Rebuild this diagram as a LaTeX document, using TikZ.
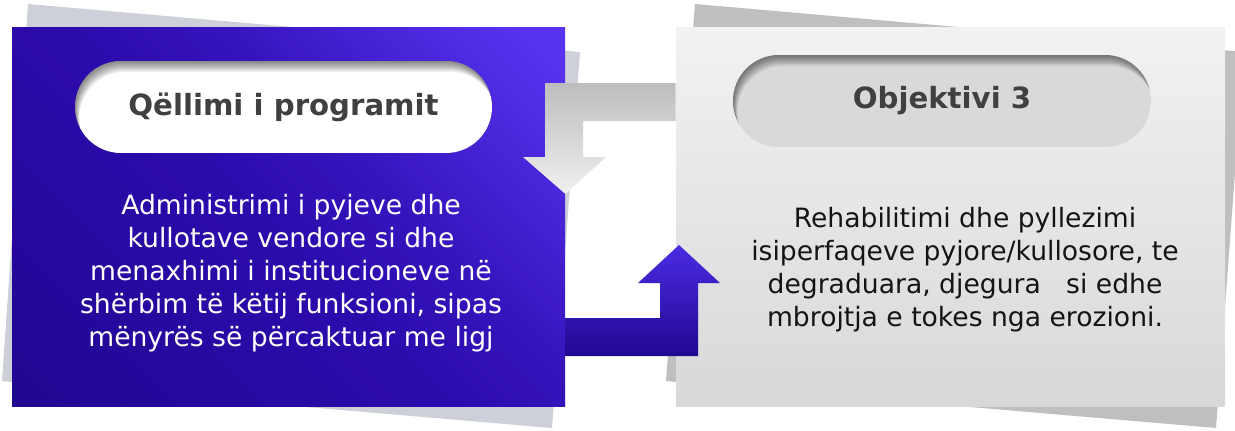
\documentclass[tikz,border=0pt]{standalone}
\usepackage{fontspec}
\setmainfont{DejaVu Sans}
\definecolor{sheetL}{HTML}{CDD0D8}
\definecolor{sheetR}{HTML}{BFBFBF}
\definecolor{blueTR}{HTML}{5833F0}
\definecolor{blueMid}{HTML}{2C0BAD}
\definecolor{blueBL}{HTML}{1E0587}
\definecolor{grayTop}{HTML}{F2F2F2}
\definecolor{grayBot}{HTML}{D8D8D8}
\definecolor{titlegray}{HTML}{404040}
\definecolor{arrBlueTop}{HTML}{4B2BE3}
\definecolor{arrBlueBot}{HTML}{220792}
\definecolor{arrGrayTop}{HTML}{BDBDBD}
\definecolor{arrGrayBot}{HTML}{F0F0F0}
\definecolor{pillR}{HTML}{D9D9D9}
\pgfdeclarehorizontalshading{bluediag}{100bp}{color(0bp)=(blueBL); color(28bp)=(blueBL!45!blueMid); color(48bp)=(blueMid); color(60bp)=(blueMid!75!blueTR); color(82bp)=(blueTR); color(100bp)=(blueTR)}
\tikzset{
  boxnode/.style={rectangle, inner sep=0pt, minimum height=189.5pt},
  bodytext/.style={align=center, font=\fontsize{13.3}{16.5}\selectfont},
  titletext/.style={font=\fontsize{14.6}{17}\selectfont\bfseries, text=titlegray},
  pillshadow/.style={black, opacity=0.05, even odd rule},
}
\begin{document}
\begin{tikzpicture}[x=0.5pt,y=-0.5pt]
\useasboundingbox (0,0) rectangle (1235,430);
% back sheets
\fill[sheetL] (28,4) -- (580,52) -- (552,428) -- (2,381) -- cycle;
\fill[sheetR] (695,4) -- (1244,52) -- (1216,428) -- (666,381) -- cycle;
% boxes
\node[boxnode, minimum width=276.5pt, shade, shading=bluediag,
      shading angle=45] (L) at (288.5,216.5) {};
\node[boxnode, minimum width=274.5pt, shade,
      top color=grayTop, bottom color=grayBot] (R) at (950.5,216.5) {};
% pills
\begin{scope}
  \clip[rounded corners=23pt] (75,61) rectangle (492,153);
  \fill[white] (75,61) rectangle (492,153);
  \foreach \d in {1,...,11}
    \fill[pillshadow] (0,0) rectangle (1235,430)
      [rounded corners=23pt] (75+0.4*\d,61+\d) rectangle (492+0.4*\d,153+\d);
\end{scope}
\begin{scope}
  \clip[rounded corners=23pt] (733,55) rectangle (1151,147);
  \fill[pillR] (733,55) rectangle (1151,147);
  \foreach \d in {1,...,11}
    \fill[pillshadow] (0,0) rectangle (1235,430)
      [rounded corners=23pt] (733+0.4*\d,55+\d) rectangle (1151+0.4*\d,147+\d);
\end{scope}
\node[titletext] (LT) at (283.5,107) {Qëllimi i programit};
\node[titletext] (RT) at (942,101) {Objektivi 3};
% body texts
\node[bodytext, text=white] (LB) at (291,273)
  {Administrimi i pyjeve dhe\\ kullotave vendore si dhe\\ menaxhimi i institucioneve në\\ shërbim të këtij funksioni, sipas\\ mënyrës së përcaktuar me ligj};
\node[bodytext, text=black!92] (RB) at (965,270)
  {Rehabilitimi dhe pyllezimi\\ isiperfaqeve pyjore/kullosore, te\\ degraduara, djegura\ \ \ si edhe\\ mbrojtja e tokes nga erozioni.};
% arrows
\shade[top color=arrGrayTop, bottom color=arrGrayBot]
  (R.west |- 0,83) -- (545,83) -- (545,157) -- (523,157) -- (L.east |- 0,194)
  -- (606,157) -- (583,157) -- (583,121) -- (R.west |- 0,121) -- cycle;
\shade[top color=arrBlueTop, bottom color=arrBlueBot]
  (L.east |- 0,318) -- (660,318) -- (660,283) -- (638,283) -- (679,245)
  -- (720,283) -- (698,283) -- (698,356) -- (L.east |- 0,356) -- cycle;
\end{tikzpicture}
\end{document}
